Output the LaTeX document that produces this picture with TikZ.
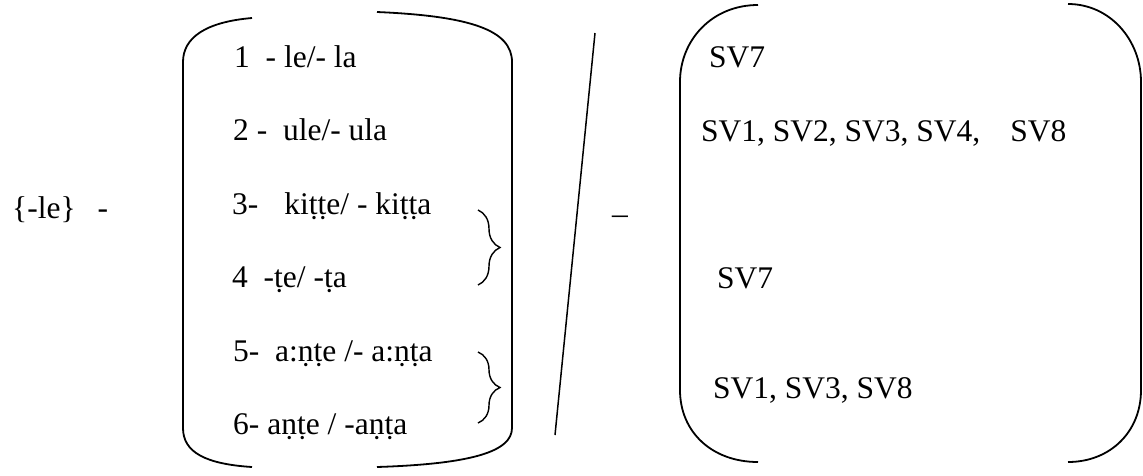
\documentclass[tikz,border=0pt]{standalone}
\usepackage{fontspec}
\setmainfont{Liberation Serif}
\usetikzlibrary{decorations.pathreplacing}
\begin{document}
\begin{tikzpicture}[x=1pt,y=-1pt,
    txt/.style={anchor=base west,inner sep=0pt,font=\fontsize{31.5}{37}\selectfont},
    bar/.style={line width=1.8pt},
    grp/.style={line width=1.4pt,decorate,decoration={brace,amplitude=22pt}}]
  \useasboundingbox (0,0) rectangle (1143,475);
  \draw
    (12,218) node[txt] (stem){\{-le\}\hspace{22pt}-}
    (234,67) node[txt] (l1){1\ \ - le/- la}
    (233,140) node[txt] (l2){2 -\ \ ule/- ula}
    (232,214) node[txt] (l3){3-\hspace{26pt}kiṭṭe/ - kiṭṭa}
    (232,287) node[txt] (l4){4\ \ -ṭe/ -ṭa}
    (233,361) node[txt] (l5){5-\ \ a:ṇṭe /- a:ṇṭa}
    (233,434) node[txt] (l6){6- aṇṭe / -aṇṭa}
    (612,213) node[txt] (cut){\_}
    (709,67) node[txt] (r1){SV7}
    (701,141) node[txt] (r2){SV1, SV2, SV3, SV4,\hspace{30pt}SV8}
    (717,288) node[txt] (r3){SV7}
    (713,398) node[txt] (r4){SV1, SV3, SV8};
  % left bracket pair
  \begin{scope}[bar]
    \draw (252,18) .. controls (205,22) and (183,38) .. (183,62)
      -- (183,428) .. controls (183,452) and (205,464) .. (252,467);
    \draw (377,12) .. controls (470,16) and (512,30) .. (512,62)
      -- (512,428) .. controls (512,452) and (470,464) .. (377,467);
    % right bracket pair
    \draw (758,5) .. controls (712,5) and (680,40) .. (680,82)
      -- (680,390) .. controls (680,432) and (712,462) .. (758,462);
    \draw (1068,4) .. controls (1110,4) and (1141,40) .. (1141,82)
      -- (1141,390) .. controls (1141,432) and (1110,462) .. (1068,462);
  \end{scope}
  \draw[line width=1.5pt] (595,33) -- (555,435);
  \draw[grp] (478,210) -- (478,285);
  \draw[grp] (478,352) -- (478,423);
\end{tikzpicture}
\end{document}
